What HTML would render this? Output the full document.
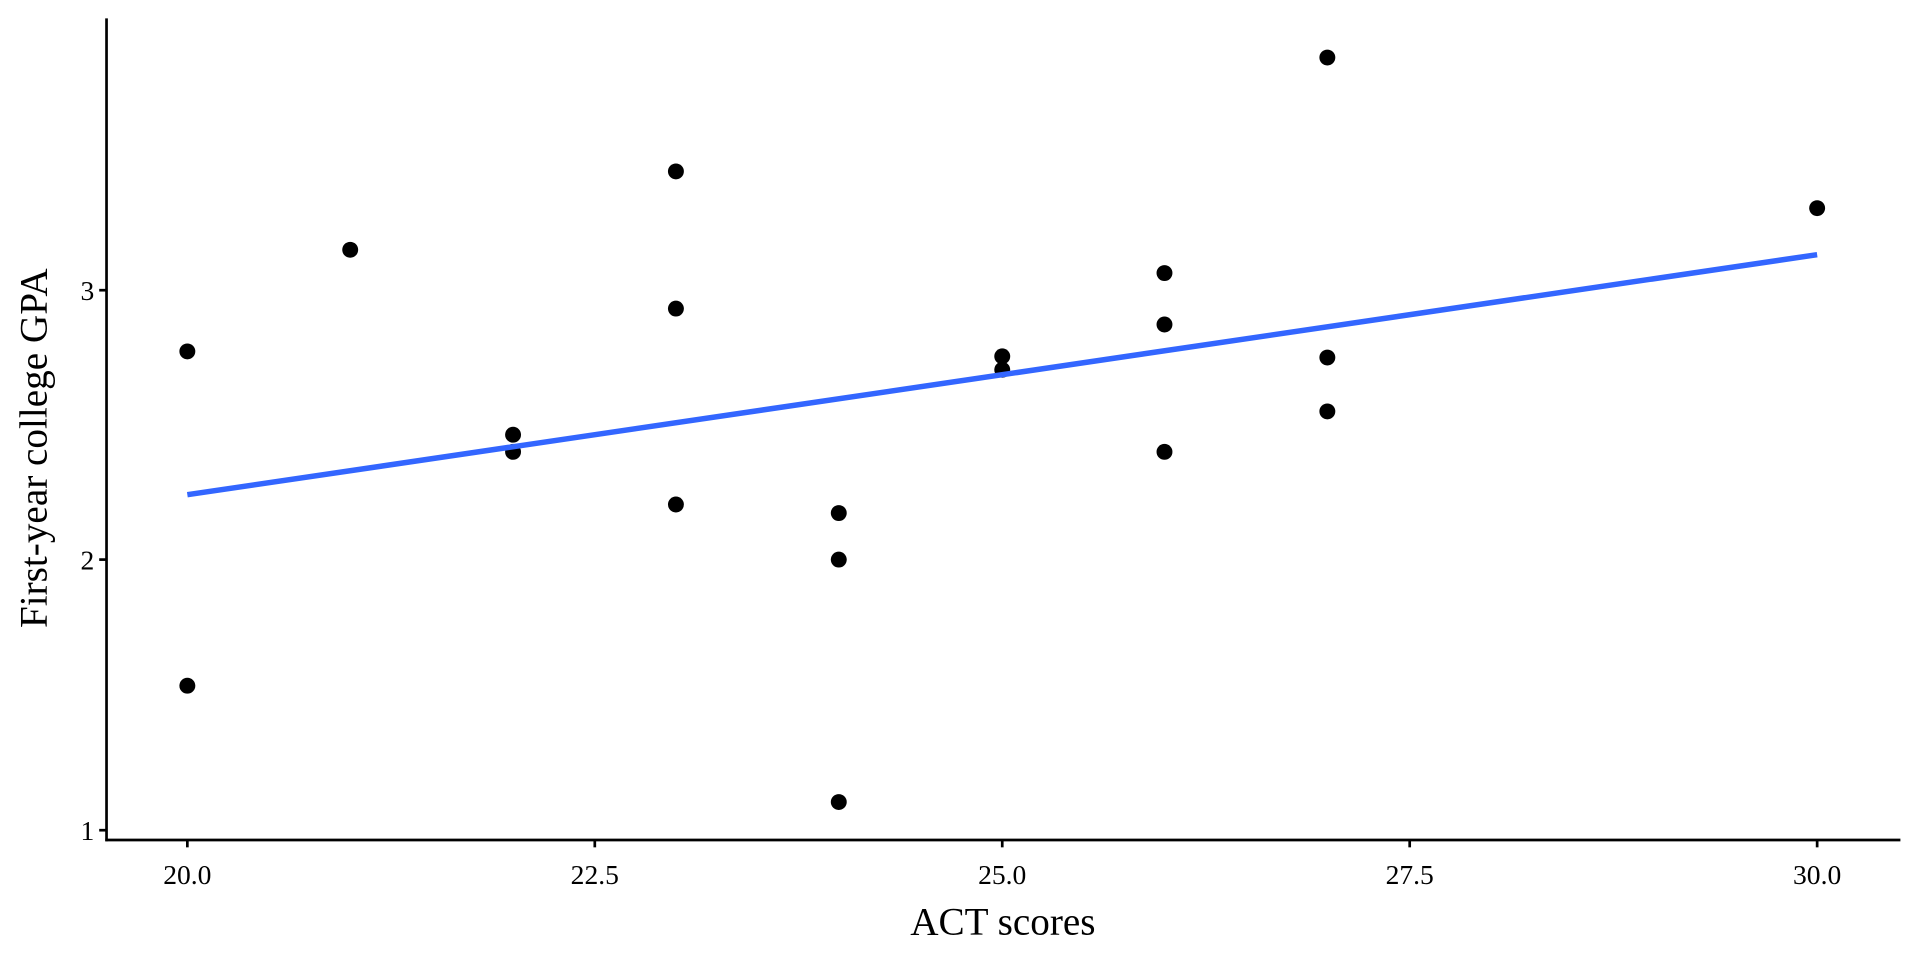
<!DOCTYPE html>
<html><head><meta charset="utf-8"><style>
html,body{margin:0;padding:0;background:#fff;}
svg{display:block;}
text{font-family:"Liberation Serif",serif;fill:#000;}
</style></head><body>
<svg width="1920" height="960" viewBox="0 0 1568 784" xmlns="http://www.w3.org/2000/svg">
<rect width="1568" height="784" fill="#fff"/>
<g stroke="#000" stroke-width="2.2" fill="none">
<line x1="87" y1="15" x2="87" y2="687"/>
<line x1="86" y1="686" x2="1552" y2="686"/>
<line x1="81" y1="237" x2="87" y2="237"/>
<line x1="81" y1="457" x2="87" y2="457"/>
<line x1="81" y1="678" x2="87" y2="678"/>
<line x1="153" y1="686" x2="153" y2="692"/>
<line x1="485.75" y1="686" x2="485.75" y2="692"/>
<line x1="818.5" y1="686" x2="818.5" y2="692"/>
<line x1="1151.25" y1="686" x2="1151.25" y2="692"/>
<line x1="1484" y1="686" x2="1484" y2="692"/>
</g>
<g font-size="22.5" text-anchor="end">
<text x="77" y="245">3</text>
<text x="77" y="465">2</text>
<text x="77" y="686">1</text>
</g>
<g font-size="22.5" text-anchor="middle">
<text x="153" y="722">20.0</text>
<text x="485.75" y="722">22.5</text>
<text x="818.5" y="722">25.0</text>
<text x="1151.25" y="722">27.5</text>
<text x="1484" y="722">30.0</text>
</g>
<text x="819" y="763" font-size="32" text-anchor="middle">ACT scores</text>
<text transform="translate(38,366) rotate(-90)" font-size="32" text-anchor="middle">First-year college GPA</text>
<g fill="#000">
<circle cx="153" cy="287" r="6.5"/>
<circle cx="153" cy="560" r="6.5"/>
<circle cx="286" cy="204" r="6.5"/>
<circle cx="419" cy="355" r="6.5"/>
<circle cx="419" cy="369" r="6.5"/>
<circle cx="552" cy="140" r="6.5"/>
<circle cx="552" cy="252" r="6.5"/>
<circle cx="552" cy="412" r="6.5"/>
<circle cx="685" cy="419" r="6.5"/>
<circle cx="685" cy="457" r="6.5"/>
<circle cx="685" cy="655" r="6.5"/>
<circle cx="818.5" cy="291" r="6.5"/>
<circle cx="818.5" cy="302" r="6.5"/>
<circle cx="951" cy="223" r="6.5"/>
<circle cx="951" cy="265" r="6.5"/>
<circle cx="951" cy="369" r="6.5"/>
<circle cx="1084" cy="47" r="6.5"/>
<circle cx="1084" cy="292" r="6.5"/>
<circle cx="1084" cy="336" r="6.5"/>
<circle cx="1484" cy="170" r="6.5"/>
</g>
<line x1="153" y1="404" x2="1484" y2="208" stroke="#3366ff" stroke-width="4.5"/>
</svg>
</body></html>
